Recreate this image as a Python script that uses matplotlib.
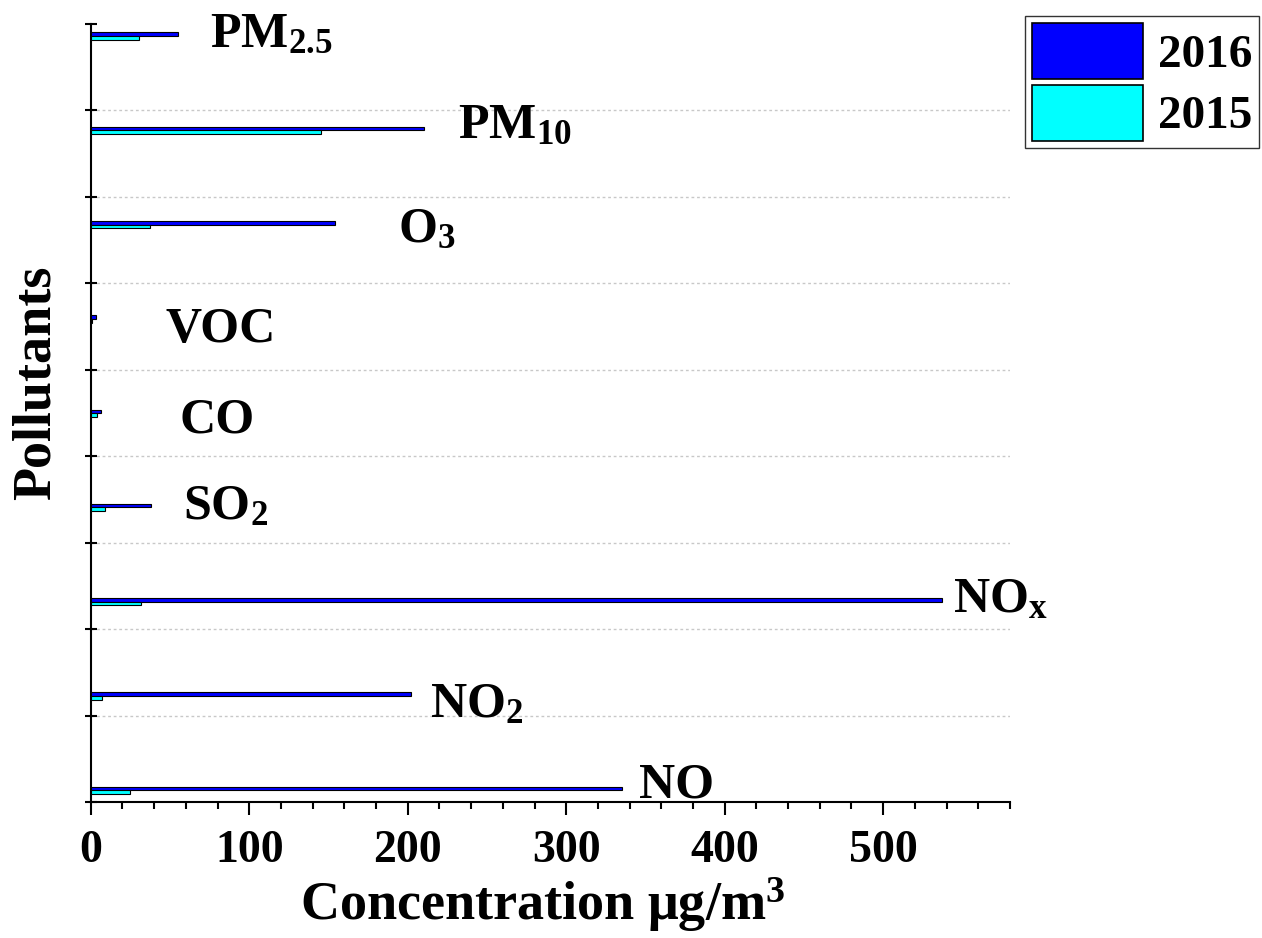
import matplotlib as mpl
mpl.use('Agg')
import matplotlib.pyplot as plt
import numpy as np
from matplotlib.patches import Patch

# data, bottom to top
pollutants = ['NO', 'NO$_2$', 'NO$_x$', 'SO$_2$', 'CO', 'VOC', 'O$_3$', 'PM$_{10}$', 'PM$_{2.5}$']
conc_2016 = [335, 202, 537, 38, 6.3, 3.3, 154, 210, 55]
conc_2015 = [25, 7, 32, 9, 3.8, 0.8, 37.5, 145, 30.5]

# where the category names sit (x in data units, baseline shift from bar centre)
label_x = [346, 214, 544, 58, 56, 47, 194, 232, 75]
label_dy = [-0.074, -0.223, -0.106, -0.127, -0.20, -0.244, -0.18, -0.085, -0.117]

plt.rcParams['font.family'] = ['Liberation Serif', 'DejaVu Serif']
plt.rcParams['font.weight'] = 'bold'
plt.rcParams['mathtext.fontset'] = 'custom'
plt.rcParams['mathtext.rm'] = 'Liberation Serif:bold'
plt.rcParams['mathtext.it'] = 'Liberation Serif:bold'
plt.rcParams['mathtext.bf'] = 'Liberation Serif:bold'

fig = plt.figure(figsize=(12.62, 9.38), dpi=100)
ax = fig.add_axes([0.0719, 0.1447, 0.7284, 0.8297])

ypos = np.arange(len(pollutants))
h = 0.039
ax.barh(ypos + h / 2, conc_2016, height=h, color='#0000ff', edgecolor='black', linewidth=0.8, zorder=3)
ax.barh(ypos - h / 2, conc_2015, height=h, color='#00ffff', edgecolor='black', linewidth=0.8, zorder=3)

for i, name in enumerate(pollutants):
    ax.text(label_x[i], ypos[i] + label_dy[i], name, fontsize=36, fontweight='bold',
            ha='left', va='baseline')

ylo, yhi = -0.128, 8.129
ax.set_ylim(ylo, yhi)
ax.set_xlim(0, 580)
yt = np.linspace(ylo, yhi, 10)
ax.set_yticks(yt)
ax.set_yticklabels([])
for y in yt[1:-1]:
    ax.axhline(y, color='#c8c8c8', linestyle=(0, (2, 2)), linewidth=1.0, zorder=1)

ax.set_xticks(np.arange(0, 501, 100))
ax.set_xticks(np.arange(0, 581, 20), minor=True)
ax.tick_params(axis='x', which='major', direction='out', length=9, width=1.5, labelsize=33, pad=11)
ax.tick_params(axis='x', which='minor', direction='out', length=4.8, width=1.5)
ax.tick_params(axis='y', which='major', direction='inout', length=9, width=1.5)
for lab in ax.get_xticklabels():
    lab.set_fontweight('bold')

ax.spines['right'].set_visible(False)
ax.spines['top'].set_visible(False)
ax.spines['left'].set_linewidth(1.5)
ax.spines['bottom'].set_linewidth(1.5)

fig.text(0.430, 0.019, 'Concentration \u03bcg/m$^3$', fontsize=39, fontweight='bold',
         ha='center', va='baseline')
fig.text(0.029, 0.592, 'Pollutants', fontsize=39, fontweight='bold', rotation=90,
         ha='center', va='center')

handles = [Patch(facecolor='#0000ff', edgecolor='black', linewidth=1.2),
           Patch(facecolor='#00ffff', edgecolor='black', linewidth=1.2)]
leg = fig.legend(handles, ['2016', '2015'], loc='upper right', bbox_to_anchor=(0.9976, 0.983),
                 fontsize=34, handlelength=2.36, handleheight=1.45, handletextpad=0.3,
                 borderpad=0.15, labelspacing=0.12, fancybox=False, framealpha=1,
                 edgecolor='#333333', borderaxespad=0)
for t in leg.get_texts():
    t.set_fontweight('bold')

fig.savefig('out.png', dpi=100)
